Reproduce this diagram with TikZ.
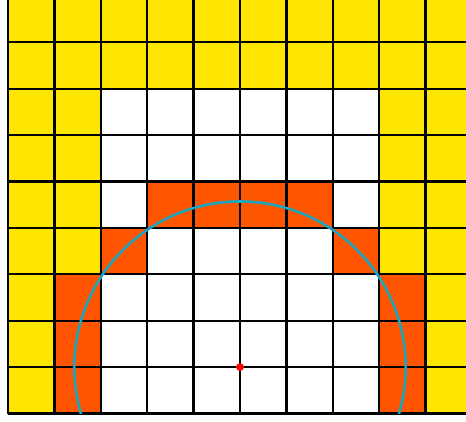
\documentclass[tikz,border=0pt]{standalone}
\usepackage{tikz}

\definecolor{cellyellow}{RGB}{255,230,0}
\definecolor{cellorange}{RGB}{255,85,0}
\definecolor{ringcyan}{RGB}{28,166,192}

\begin{document}
\begin{tikzpicture}[
    yc/.style={fill=cellyellow},
    wc/.style={fill=white},
    oc/.style={fill=cellorange},
    gridln/.style={line width=1.4pt, black},
    ring/.style={line width=1.6pt, ringcyan},
    dot/.style={circle, fill=red, inner sep=0pt, minimum size=1.7mm},
  ]
  \useasboundingbox (-0.172,-0.162) rectangle (9.871,8.912);
  % cells
  \fill[yc] (0,0) rectangle (9.871,8.912);
  \fill[wc] (2,0) rectangle (8,7);
  \foreach \cx/\cy in {1/0,1/1,1/2,8/0,8/1,8/2,2/3,7/3,3/4,4/4,5/4,6/4}
    \fill[oc] (\cx,\cy) rectangle ++(1,1);
  \draw[gridln] (0,0) grid (9.871,8.912);
  % half circle round the centre
  \coordinate (ctr) at (5,1);
  \begin{scope}
    \clip (0,0) rectangle (9.871,8.912);
    \draw[ring] (ctr) circle (3.57);
  \end{scope}
  \node[dot] (ctrdot) at (ctr) {};
\end{tikzpicture}
\end{document}
